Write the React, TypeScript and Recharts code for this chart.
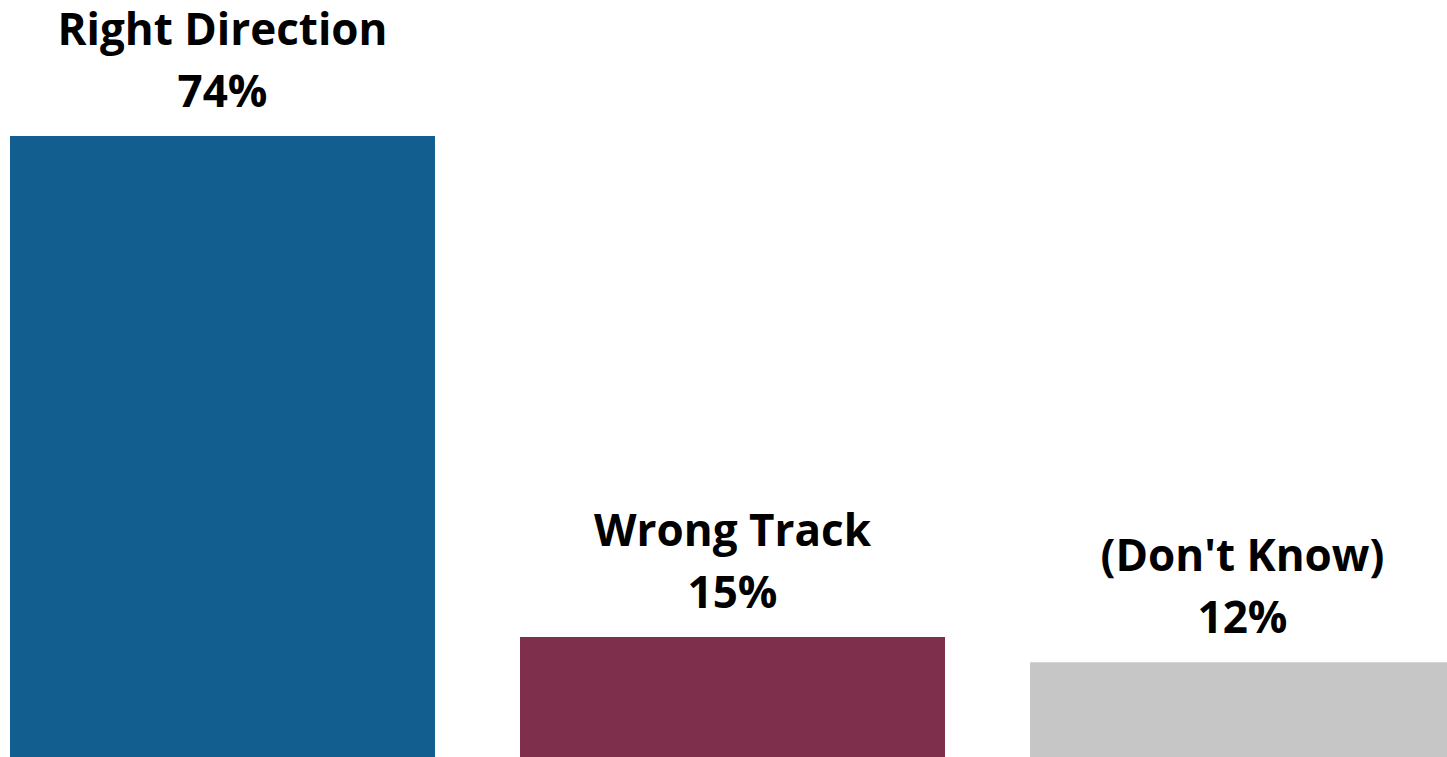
import React from "react";
import { BarChart, Bar, XAxis, YAxis, LabelList, Cell } from "recharts";

const categories = ["Right Direction", "Wrong Track", "(Don't Know)"];
const values = [74, 14.3, 11.3];
const valueLabels = ["74%", "15%", "12%"];
const colors = ["#125E8F", "#7E2F4C", "#C6C6C6"];

const data = categories.map((name, i) => ({
  name,
  value: values[i],
  label: valueLabels[i],
}));

const renderLabel = (props: any) => {
  const { x, y, width, index } = props;
  const cx = x + width / 2;
  const style = {
    fontFamily: "'Open Sans', sans-serif",
    fontWeight: 700,
    fontSize: 44,
    fill: "#000",
  } as React.CSSProperties;
  return (
    <g>
      <text x={cx} y={y - 91} textAnchor="middle" style={style}>
        {categories[index]}
      </text>
      <text x={cx} y={y - 29} textAnchor="middle" style={style}>
        {valueLabels[index]}
      </text>
    </g>
  );
};

export default function App() {
  return (
    <div
      style={{
        position: "absolute",
        left: 0,
        top: 0,
        width: 1447,
        height: 757,
        overflow: "hidden",
        background: "#fff",
      }}
    >
      <div style={{ position: "absolute", left: -33.5, top: 0 }}>
        <BarChart
          width={1530}
          height={757}
          data={data}
          margin={{ top: 0, right: 0, bottom: 0, left: 0 }}
          barSize={425}
        >
          <XAxis dataKey="name" hide />
          <YAxis hide domain={[0, 90.2]} />
          <Bar dataKey="value" isAnimationActive={false}>
            {data.map((d, i) => (
              <Cell key={d.name} fill={colors[i]} />
            ))}
            <LabelList dataKey="value" content={renderLabel} />
          </Bar>
        </BarChart>
      </div>
    </div>
  );
}
